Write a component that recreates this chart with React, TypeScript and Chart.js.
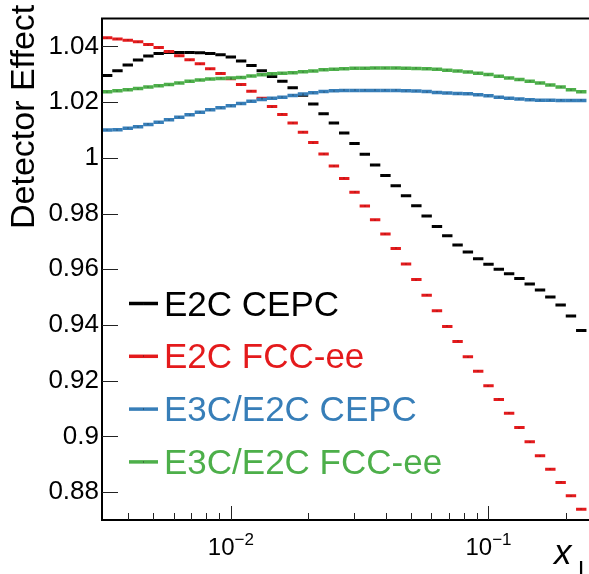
import React, { useEffect, useRef } from "react";
import { Chart, registerables } from "chart.js";
Chart.register(...registerables);

const FONT = '"Liberation Sans", Arial, Helvetica, sans-serif';

// bin centres (x_L)
const binCenters = [
  0.0033113, 0.0036308, 0.0039811, 0.0043652, 0.0047863, 0.0052481, 0.0057544, 0.0063096, 0.0069183, 0.0075858,
  0.0083176, 0.0091201, 0.01, 0.010965, 0.012023, 0.013183, 0.014454, 0.015849, 0.017378, 0.019055,
  0.020893, 0.022909, 0.025119, 0.027542, 0.0302, 0.033113, 0.036308, 0.039811, 0.043652, 0.047863,
  0.052481, 0.057544, 0.063096, 0.069183, 0.075858, 0.083176, 0.091201, 0.1, 0.10965, 0.12023,
  0.13183, 0.14454, 0.15849, 0.17378, 0.19055, 0.20893, 0.22909,
];

const e2cCEPC = [
  1.0296, 1.0313, 1.0333, 1.0351, 1.0366, 1.0375, 1.0378, 1.0378, 1.0378, 1.0377,
  1.0375, 1.037, 1.0362, 1.0348, 1.0332, 1.0313, 1.0292, 1.0275, 1.0252, 1.0225,
  1.0193, 1.0158, 1.0125, 1.0089, 1.0052, 1.0013, 0.9974, 0.9937, 0.99, 0.9864,
  0.9828, 0.9791, 0.9754, 0.972, 0.9687, 0.9662, 0.9638, 0.9618, 0.96, 0.9584,
  0.9567, 0.9547, 0.9526, 0.9501, 0.9472, 0.9432, 0.938,
];

const e2cFCCee = [
  1.0431, 1.0427, 1.0422, 1.0417, 1.0407, 1.0396, 1.0382, 1.0367, 1.0352, 1.0338,
  1.032, 1.0303, 1.0284, 1.0263, 1.0239, 1.0214, 1.0184, 1.0156, 1.0125, 1.0092,
  1.0055, 1.0014, 0.9971, 0.9926, 0.9877, 0.9827, 0.9778, 0.9727, 0.9675, 0.9619,
  0.9563, 0.9507, 0.9451, 0.9395, 0.9341, 0.9286, 0.9234, 0.9182, 0.9133, 0.9083,
  0.9032, 0.8981, 0.8931, 0.8882, 0.8835, 0.8787, 0.8739,
];

const e3cCEPC = [
  1.01, 1.0101, 1.0106, 1.0112, 1.012, 1.0128, 1.0137, 1.0146, 1.0155, 1.0164,
  1.0173, 1.018, 1.0187, 1.0195, 1.0203, 1.021, 1.0214, 1.0218, 1.0224, 1.0229,
  1.0234, 1.0238, 1.0241, 1.0242, 1.0242, 1.0242, 1.0242, 1.0242, 1.0242, 1.0241,
  1.024, 1.0238, 1.0235, 1.0233, 1.0231, 1.023, 1.0227, 1.0223, 1.0218, 1.0214,
  1.0211, 1.0209, 1.0207, 1.0207, 1.0206, 1.0206, 1.0206,
];

const e3cFCCee = [
  1.0237, 1.0241, 1.0245, 1.0249, 1.0254, 1.0259, 1.0263, 1.0269, 1.0275, 1.028,
  1.0283, 1.0285, 1.0287, 1.0289, 1.0294, 1.0298, 1.0302, 1.0304, 1.0306, 1.0309,
  1.0312, 1.0316, 1.0318, 1.032, 1.0322, 1.0322, 1.0323, 1.0323, 1.0323, 1.0322,
  1.0321, 1.032, 1.0318, 1.0315, 1.0312, 1.0308, 1.0304, 1.0299, 1.0293, 1.0287,
  1.0281, 1.0275, 1.0269, 1.0262, 1.0254, 1.0245, 1.0237,
];

const seriesLabels = ["E2C CEPC", "E2C FCC-ee", "E3C/E2C CEPC", "E3C/E2C FCC-ee"];
const seriesValues = [e2cCEPC, e2cFCCee, e3cCEPC, e3cFCCee];
const seriesColors = ["#000000", "#e41a1c", "#377eb8", "#4daf4a"];

const yTickValues = [0.88, 0.9, 0.92, 0.94, 0.96, 0.98, 1.0, 1.02, 1.04];
const xMajorTicks = [0.01, 0.1];
const xMajorExponents = ["\u22122", "\u22121"];
const xMinorTicks = [
  0.004, 0.005, 0.006, 0.007, 0.008, 0.009,
  0.02, 0.03, 0.04, 0.05, 0.06, 0.07, 0.08, 0.09, 0.2,
];

const yTitle = "Detector Effect";
const xTitle = "x";
const xTitleSub = "L";

const rootPlugin = {
  id: "rootStyle",
  afterDatasetsDraw(chart: any) {
    const { ctx } = chart;
    ctx.save();
    ctx.fillStyle = "rgba(30,30,30,0.75)";
    chart.data.datasets.forEach((_d: any, i: number) => {
      const meta = chart.getDatasetMeta(i);
      meta.data.forEach((pt: any) => {
        ctx.fillRect(Math.round(pt.x) - 0.5, Math.round(pt.y) - 0.5, 1, 1);
      });
    });
    ctx.restore();
  },
  afterDraw(chart: any) {
    const { ctx, chartArea: a, scales } = chart;
    const xs = scales.x;
    const ys = scales.y;
    ctx.save();
    // frame
    ctx.strokeStyle = "#000";
    ctx.lineWidth = 2;
    ctx.beginPath();
    ctx.moveTo(a.left, a.top);
    ctx.lineTo(a.right + 2, a.top);
    ctx.moveTo(a.left, a.top - 1);
    ctx.lineTo(a.left, a.bottom + 1);
    ctx.moveTo(a.left - 1, a.bottom);
    ctx.lineTo(a.right + 2, a.bottom);
    ctx.stroke();

    // ticks
    ctx.lineWidth = 1;
    ctx.strokeStyle = "#222";
    ctx.beginPath();
    yTickValues.forEach((v) => {
      const py = Math.round(ys.getPixelForValue(v)) + 0.5;
      ctx.moveTo(a.left, py);
      ctx.lineTo(a.left + 16, py);
    });
    xMajorTicks.forEach((v) => {
      const px = Math.round(xs.getPixelForValue(v)) + 0.5;
      ctx.moveTo(px, a.bottom);
      ctx.lineTo(px, a.bottom - 14);
    });
    xMinorTicks.forEach((v) => {
      const px = Math.round(xs.getPixelForValue(v)) + 0.5;
      ctx.moveTo(px, a.bottom);
      ctx.lineTo(px, a.bottom - 7);
    });
    ctx.stroke();

    // x tick labels 10^n
    ctx.fillStyle = "#000";
    ctx.textBaseline = "alphabetic";
    ctx.textAlign = "left";
    xMajorTicks.forEach((v, i) => {
      const px = xs.getPixelForValue(v);
      ctx.font = `24px ${FONT}`;
      const w1 = ctx.measureText("10").width;
      ctx.font = `17px ${FONT}`;
      const w2 = ctx.measureText(xMajorExponents[i]).width;
      const x0 = px - (w1 + w2) / 2;
      ctx.font = `24px ${FONT}`;
      ctx.fillText("10", x0, 555);
      ctx.font = `17px ${FONT}`;
      ctx.fillText(xMajorExponents[i], x0 + w1, 545);
    });

    // y title
    ctx.save();
    ctx.translate(34, 229);
    ctx.rotate(-Math.PI / 2);
    ctx.font = `34px ${FONT}`;
    ctx.textAlign = "left";
    ctx.fillText(yTitle, 0, 0);
    ctx.restore();

    // x title
    ctx.font = `italic 35px ${FONT}`;
    ctx.fillText(xTitle, 554, 564);
    ctx.font = `24px ${FONT}`;
    ctx.fillText(xTitleSub, 578, 578);

    // legend
    seriesLabels.forEach((lab, i) => {
      const yl = 303.5 + 52.8 * i;
      ctx.strokeStyle = seriesColors[i];
      ctx.lineWidth = 3.5;
      ctx.beginPath();
      ctx.moveTo(129, yl);
      ctx.lineTo(158, yl);
      ctx.stroke();
      ctx.fillStyle = "rgba(30,30,30,0.8)";
      ctx.fillRect(143, Math.round(yl) - 0.5, 1, 1);
      ctx.fillStyle = seriesColors[i];
      ctx.font = `35px ${FONT}`;
      ctx.fillText(lab, 164, yl + 12);
    });
    ctx.restore();
  },
};

export default function App() {
  const ref = useRef<HTMLCanvasElement | null>(null);
  useEffect(() => {
    document.body.style.margin = "0";
    const canvas = ref.current;
    if (!canvas) return;
    const datasets = seriesLabels.map((lab, i) => ({
      label: lab,
      data: binCenters.map((x, k) => ({ x, y: seriesValues[i][k] })),
      showLine: false,
      pointStyle: "line",
      pointRadius: 5.2,
      pointHoverRadius: 5.2,
      pointBorderWidth: i >= 2 ? 3.5 : 3,
      pointBorderColor: seriesColors[i],
      pointBackgroundColor: seriesColors[i],
      borderColor: seriesColors[i],
      order: 4 - i,
    }));
    const chart = new Chart(canvas, {
      type: "scatter",
      data: { datasets: datasets as any },
      options: {
        animation: false,
        responsive: false,
        devicePixelRatio: 1,
        layout: { autoPadding: false, padding: { top: 8, right: 0, left: 0, bottom: 0 } },
        plugins: { legend: { display: false }, tooltip: { enabled: false } },
        events: [],
        scales: {
          x: {
            type: "logarithmic",
            min: 0.0031623,
            max: 0.2455,
            afterFit: (s: any) => {
              s.height = 54;
            },
            grid: { display: false, drawTicks: false },
            border: { display: false },
            ticks: { display: false },
          },
          y: {
            type: "linear",
            min: 0.87,
            max: 1.05,
            afterFit: (s: any) => {
              s.width = 102;
            },
            afterBuildTicks: (s: any) => {
              s.ticks = yTickValues.map((v) => ({ value: v }));
            },
            grid: { display: false, drawTicks: false },
            border: { display: false },
            ticks: {
              padding: 3,
              color: "#000",
              autoSkip: false,
              font: { family: FONT, size: 26 },
              callback: (v: any) => String(parseFloat(Number(v).toFixed(3))),
            },
          },
        },
      } as any,
      plugins: [rootPlugin],
    });
    return () => chart.destroy();
  }, []);
  return (
    <div style={{ position: "absolute", left: 0, top: 0, width: 589, height: 574, background: "#fff" }}>
      <canvas ref={ref} width={589} height={574} />
    </div>
  );
}
